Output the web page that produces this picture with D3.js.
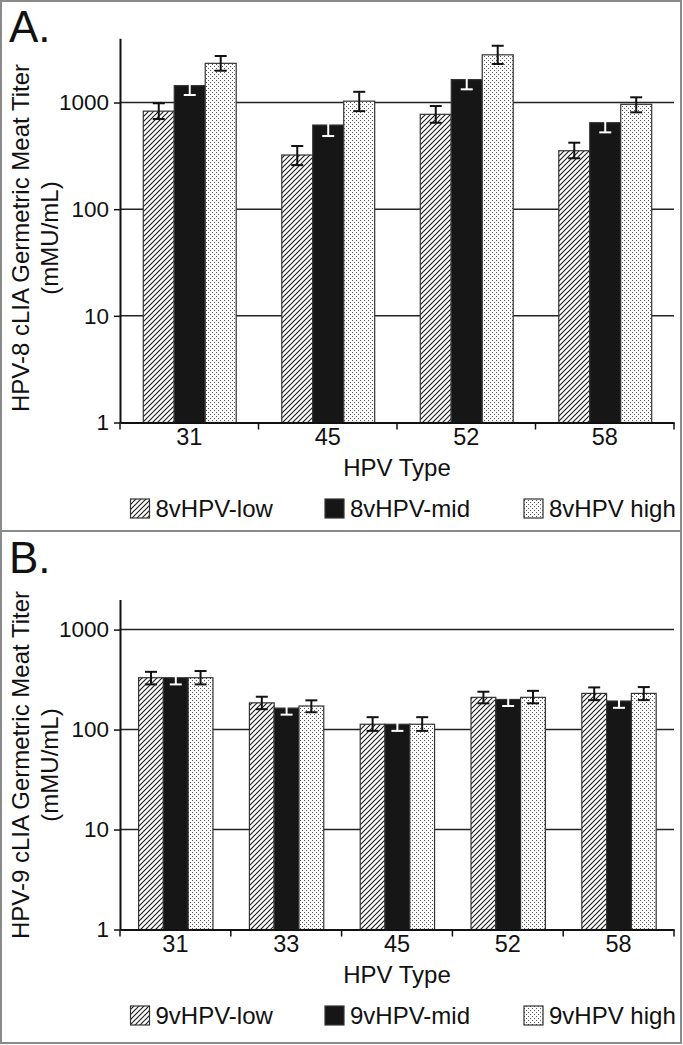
<!DOCTYPE html>
<html>
<head>
<meta charset="utf-8">
<script src="https://cdn.jsdelivr.net/npm/d3@7"></script>
<style>
  html, body { margin: 0; padding: 0; background: #fff; }
  svg { display: block; font-family: "Liberation Sans", Arial, sans-serif; }
</style>
</head>
<body>
<svg id="chart" width="683" height="1045"></svg>
<script>
// ---------- DATA ----------
const seriesA = ["8vHPV-low", "8vHPV-mid", "8vHPV high"];
const seriesB = ["9vHPV-low", "9vHPV-mid", "9vHPV high"];

const typesA = ["31", "45", "52", "58"];
const lowA  = [830, 322, 775, 353];
const midA  = [1440, 615, 1640, 647];
const highA = [2330, 1030, 2800, 962];
const lowA_lo  = [700, 259, 646, 300];
const lowA_hi  = [984, 391, 927, 420];
const midA_lo  = [1176, 485, 1330, 525];
const midA_hi  = [1722, 792, 1945, 775];
const highA_lo = [1987, 830, 2296, 809];
const highA_hi = [2730, 1260, 3405, 1119];

const typesB = ["31", "33", "45", "52", "58"];
const lowB  = [330, 185, 113, 210, 230];
const midB  = [330, 164, 113, 200, 193];
const highB = [330, 172, 113, 210, 230];
const lowB_lo  = [283, 160, 97, 183, 197];
const lowB_hi  = [378, 213, 133, 239, 264];
const midB_lo  = [283, 141, 97, 172, 165];
const midB_hi  = [378, 187, 133, 230, 221];
const highB_lo = [283, 149, 97, 183, 197];
const highB_hi = [385, 196, 133, 244, 266];

const yTicks = [1, 10, 100, 1000];

// ---------- SETUP ----------
const FONT = "'Liberation Sans', Arial, sans-serif";
const svg = d3.select("#chart");
const defs = svg.append("defs");

// hatch pattern
const hatch = defs.append("pattern").attr("id", "hatch")
  .attr("patternUnits", "userSpaceOnUse").attr("width", 5).attr("height", 5);
hatch.append("rect").attr("width", 5).attr("height", 5).attr("fill", "#fff");
hatch.append("path").attr("d", "M0,5 L5,0 M-1,1 L1,-1 M4,6 L6,4")
  .attr("stroke", "#222").attr("stroke-width", 1.2);

// dotted pattern
const dots = defs.append("pattern").attr("id", "dots")
  .attr("patternUnits", "userSpaceOnUse").attr("width", 4).attr("height", 4);
dots.append("rect").attr("width", 4).attr("height", 4).attr("fill", "#fff");
dots.append("rect").attr("x", 0).attr("y", 0).attr("width", 1).attr("height", 1).attr("fill", "#555");
dots.append("rect").attr("x", 2).attr("y", 2).attr("width", 1).attr("height", 1).attr("fill", "#555");

const fills = ["url(#hatch)", "#161616", "url(#dots)"];
const errColors = ["#111", "#fff", "#111"];

// frame
svg.append("rect").attr("x", 1).attr("y", 1).attr("width", 680).attr("height", 1042)
  .attr("fill", "none").attr("stroke", "#8a8a8a").attr("stroke-width", 2);
svg.append("line").attr("x1", 1).attr("x2", 681).attr("y1", 531).attr("y2", 531)
  .attr("stroke", "#8a8a8a").attr("stroke-width", 2);

function panel(opt) {
  const g = svg.append("g").attr("font-family", FONT);
  const x0 = 120, x1 = 674;
  const x = d3.scaleBand().domain(opt.types).range([x0, x1]);
  const bw = x.bandwidth();
  const xs = d3.scaleBand().domain([0, 1, 2]).range([bw * 0.168, bw * 0.839]);
  const y = d3.scaleLog().domain([1, opt.maxV]).range([opt.yBottom, opt.yTop]);

  // panel label
  g.append("text").attr("x", 9).attr("y", opt.yBottom - opt.labelOffset)
    .attr("font-size", 44).attr("fill", "#111").text(opt.label);

  // gridlines
  g.append("g").selectAll("line").data(yTicks.slice(1)).join("line")
    .attr("x1", x0).attr("x2", x1).attr("y1", d => y(d)).attr("y2", d => y(d))
    .attr("stroke", "#222").attr("stroke-width", 1.5);

  // bars
  const seriesVals = [opt.low, opt.mid, opt.high];
  const seriesLo = [opt.lowLo, opt.midLo, opt.highLo];
  const seriesHi = [opt.lowHi, opt.midHi, opt.highHi];
  seriesVals.forEach((vals, s) => {
    const sg = g.append("g");
    sg.selectAll("rect").data(vals).join("rect")
      .attr("x", (d, i) => x(opt.types[i]) + xs(s))
      .attr("y", d => y(d))
      .attr("width", xs.bandwidth())
      .attr("height", d => y(1) - y(d))
      .attr("fill", fills[s])
      .attr("stroke", "#333").attr("stroke-width", 1.2);
  });
  // error bars
  seriesVals.forEach((vals, s) => {
    const eg = g.append("g").attr("stroke", errColors[s]).attr("stroke-width", 2).attr("fill", "none");
    vals.forEach((v, i) => {
      const cx = x(opt.types[i]) + xs(s) + xs.bandwidth() / 2;
      const lo = seriesLo[s][i], hi = seriesHi[s][i];
      eg.append("line").attr("x1", cx).attr("x2", cx).attr("y1", y(lo)).attr("y2", y(hi));
      eg.append("line").attr("x1", cx - 6).attr("x2", cx + 6).attr("y1", y(lo)).attr("y2", y(lo));
      eg.append("line").attr("x1", cx - 6).attr("x2", cx + 6).attr("y1", y(hi)).attr("y2", y(hi));
    });
  });

  // y axis
  const ya = g.append("g").attr("transform", `translate(${x0},0)`)
    .call(d3.axisLeft(y).tickValues(yTicks).tickFormat(d3.format("d")).tickSize(6).tickSizeOuter(0).tickPadding(5));
  ya.attr("font-family", FONT);
  ya.select(".domain").attr("stroke", "#111").attr("stroke-width", 2);
  ya.selectAll(".tick line").attr("stroke", "#111").attr("stroke-width", 1.5);
  ya.selectAll(".tick text").attr("font-size", 22.5).attr("fill", "#111");

  // x axis
  const xa = g.append("g").attr("transform", `translate(0,${opt.yBottom})`)
    .call(d3.axisBottom(x).tickSize(0).tickPadding(6));
  xa.attr("font-family", FONT);
  xa.select(".domain").attr("stroke", "#111").attr("stroke-width", 2);
  xa.selectAll(".tick text").attr("font-size", 23.5).attr("fill", "#111");
  const bounds = opt.types.map(t => x(t)).concat([x1]);
  g.append("g").selectAll("line").data(bounds).join("line")
    .attr("x1", d => d).attr("x2", d => d)
    .attr("y1", opt.yBottom).attr("y2", opt.yBottom + 7)
    .attr("stroke", "#111").attr("stroke-width", 1.5);

  // x title
  g.append("text").attr("x", (x0 + x1) / 2).attr("y", opt.yBottom + 45)
    .attr("dy", "0.35em").attr("text-anchor", "middle")
    .attr("font-size", 24).attr("fill", "#111").text("HPV Type");

  // y title
  const yc = opt.titleCenter;
  g.append("text").attr("transform", `translate(21,${yc}) rotate(-90)`)
    .attr("dy", "0.35em").attr("text-anchor", "middle")
    .attr("font-size", 24).attr("fill", "#111").text(opt.ytitle);
  g.append("text").attr("transform", `translate(50,${yc}) rotate(-90)`)
    .attr("dy", "0.35em").attr("text-anchor", "middle")
    .attr("font-size", 24).attr("fill", "#111").text("(mMU/mL)");

  // legend
  const ly = opt.yBottom + 86;
  const swX = [130.5, 325, 524];
  const txX = [155.5, 350, 549];
  opt.series.forEach((name, s) => {
    g.append("rect").attr("x", swX[s]).attr("y", ly - 9.5).attr("width", 19).attr("height", 19)
      .attr("fill", fills[s]).attr("stroke", "#333").attr("stroke-width", 1.2);
    g.append("text").attr("x", txX[s]).attr("y", ly).attr("dy", "0.35em")
      .attr("font-size", 24).attr("fill", "#111").text(name);
  });
}

panel({
  label: "A.", labelOffset: 380.5, types: typesA, series: seriesA,
  low: lowA, mid: midA, high: highA,
  lowLo: lowA_lo, lowHi: lowA_hi, midLo: midA_lo, midHi: midA_hi, highLo: highA_lo, highHi: highA_hi,
  maxV: 4000, yBottom: 422.5, yTop: 38.3, titleCenter: 238,
  ytitle: "HPV-8 cLIA Germetric Meat Titer"
});

panel({
  label: "B.", labelOffset: 356.5, types: typesB, series: seriesB,
  low: lowB, mid: midB, high: highB,
  lowLo: lowB_lo, lowHi: lowB_hi, midLo: midB_lo, midHi: midB_hi, highLo: highB_lo, highHi: highB_hi,
  maxV: 2000, yBottom: 929.5, yTop: 599.5, titleCenter: 765,
  ytitle: "HPV-9 cLIA Germetric Meat Titer"
});
</script>
</body>
</html>
